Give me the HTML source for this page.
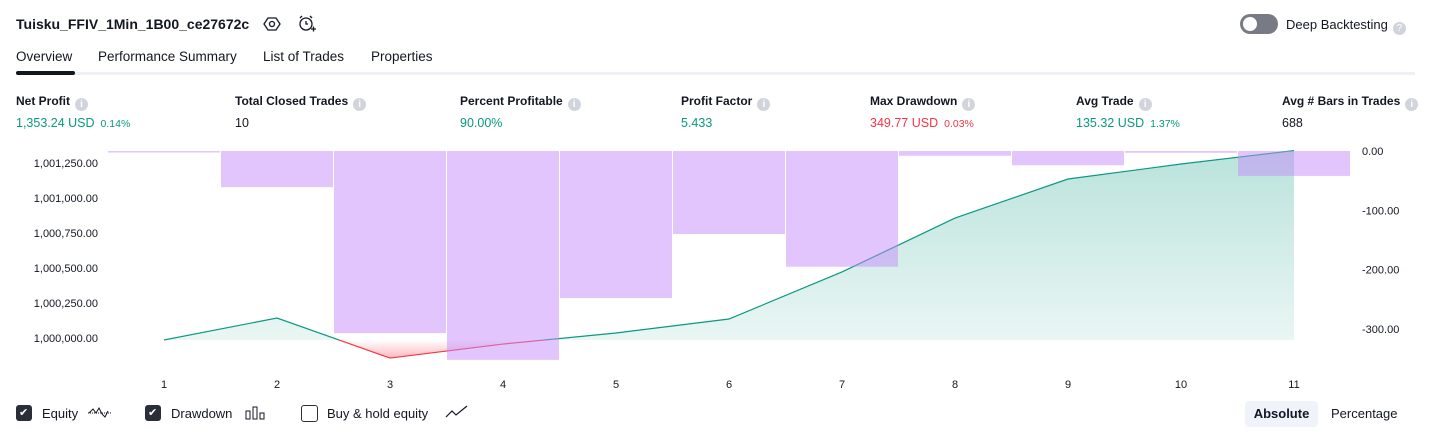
<!DOCTYPE html>
<html><head><meta charset="utf-8"><style>
body{margin:0;width:1431px;height:438px;background:#fff;font-family:"Liberation Sans",sans-serif;color:#131722;position:relative;overflow:hidden}
.a{position:absolute;white-space:nowrap}
.lbl{font-size:12px;font-weight:bold;color:#131722}
.val{font-size:12.5px}
.g{color:#089981}.r{color:#f23645}
.sm{font-size:10.5px;margin-left:6px}
.i{display:inline-block;width:13px;height:13px;border-radius:50%;background:#d1d4dc;color:#fff;font-size:10px;text-align:center;line-height:13px;margin-left:5px;vertical-align:-2px}
.tab{font-size:13.5px;top:49px}
.cb{width:16px;height:16px;border-radius:3px;top:405px}
.leg{font-size:13px;top:406px}
</style></head><body>
<div class="a" style="left:16px;top:16px;font-size:14px;font-weight:bold">Tuisku_FFIV_1Min_1B00_ce27672c</div>
<svg class="a" style="left:263px;top:15px" width="18" height="18"><polygon points="5,3 13,3 17,9 13,15 5,15 1,9" fill="none" stroke="#131722" stroke-width="1.3"/><circle cx="9" cy="9" r="2.5" fill="none" stroke="#131722" stroke-width="1.3"/></svg>
<svg class="a" style="left:297px;top:14px" width="20" height="20"><circle cx="9" cy="10" r="6" fill="none" stroke="#131722" stroke-width="1.3"/><path d="M9 7v3h2M3 4l2-2M15 4l-2-2M14 15h5M16.5 12.5v5" stroke="#131722" fill="none" stroke-width="1.3"/></svg>
<div class="a" style="left:1240px;top:14px;width:38px;height:20px;border-radius:10px;background:#787b86"><div style="position:absolute;left:3px;top:3px;width:14px;height:14px;border-radius:50%;background:#fff"></div></div>
<div class="a" style="left:1286px;top:17px;font-size:13px">Deep Backtesting<span class="i">?</span></div>
<div class="a tab" style="left:16px">Overview</div>
<div class="a tab" style="left:98px">Performance Summary</div>
<div class="a tab" style="left:263px">List of Trades</div>
<div class="a tab" style="left:371px">Properties</div>
<div class="a" style="left:16px;top:72px;width:1399px;height:3px;background:#eef0f5"></div>
<div class="a" style="left:16px;top:71px;width:59px;height:4px;border-radius:2px;background:#131722"></div>

<div class="a" style="left:16px;top:94px"><div class="lbl">Net Profit<span class="i">i</span></div><div class="val g" style="margin-top:5px">1,353.24 USD<span class="sm">0.14%</span></div></div>
<div class="a" style="left:235px;top:94px"><div class="lbl">Total Closed Trades<span class="i">i</span></div><div class="val" style="margin-top:5px">10</div></div>
<div class="a" style="left:460px;top:94px"><div class="lbl">Percent Profitable<span class="i">i</span></div><div class="val g" style="margin-top:5px">90.00%</div></div>
<div class="a" style="left:681px;top:94px"><div class="lbl">Profit Factor<span class="i">i</span></div><div class="val g" style="margin-top:5px">5.433</div></div>
<div class="a" style="left:870px;top:94px"><div class="lbl">Max Drawdown<span class="i">i</span></div><div class="val r" style="margin-top:5px">349.77 USD<span class="sm">0.03%</span></div></div>
<div class="a" style="left:1076px;top:94px"><div class="lbl">Avg Trade<span class="i">i</span></div><div class="val g" style="margin-top:5px">135.32 USD<span class="sm">1.37%</span></div></div>
<div class="a" style="left:1282px;top:94px"><div class="lbl">Avg # Bars in Trades<span class="i">i</span></div><div class="val" style="margin-top:5px">688</div></div>

<svg class="a" id="chart" style="left:0;top:0" width="1431" height="400"></svg>

<div class="a cb" style="left:16px;background:#2a2e39"><span style="color:#fff;font-size:11px;position:absolute;left:3px;top:1px">✔</span></div>
<div class="a leg" style="left:42px">Equity</div>
<svg class="a" style="left:88px;top:405px" width="24" height="14"><path d="M1 8l4-4 3 4 3-5 3 6 3 3 3-6" fill="none" stroke="#131722" stroke-width="1"/><path d="M0 8h24" stroke="#131722" stroke-dasharray="1 1"/></svg>
<div class="a cb" style="left:145px;background:#2a2e39"><span style="color:#fff;font-size:11px;position:absolute;left:3px;top:1px">✔</span></div>
<div class="a leg" style="left:171px">Drawdown</div>
<svg class="a" style="left:245px;top:406px" width="22" height="14"><rect x="1" y="5" width="4" height="8" fill="none" stroke="#131722"/><rect x="8" y="1" width="4" height="12" fill="none" stroke="#131722"/><rect x="15" y="7" width="4" height="6" fill="none" stroke="#131722"/></svg>
<div class="a cb" style="left:301px;border:1px solid #2a2e39;box-sizing:border-box;width:17px;height:17px"></div>
<div class="a leg" style="left:327px">Buy &amp; hold equity</div>
<svg class="a" style="left:445px;top:405px" width="24" height="14"><path d="M1 12l6-6 4 4 11-9" fill="none" stroke="#131722" stroke-width="1.2"/></svg>
<div class="a" style="left:1245px;top:401px;width:73px;height:26px;background:#f0f3fa;border-radius:4px;font-size:13px;font-weight:bold;text-align:center;line-height:26px">Absolute</div>
<div class="a" style="left:1331px;top:406px;font-size:13px">Percentage</div>

<script>
const trades=[1,2,3,4,5,6,7,8,9,10,11];
const equity=[0,157,-129,-29,50,150,486,871,1150,1257,1353];
const drawdown=[-1,-61,-307,-352,-248,-140,-195,-8,-24,-3,-42];
const leftTicks=[1001250,1001000,1000750,1000500,1000250,1000000];
const rightTicks=[0,-100,-200,-300];
const base=1000000;
const NS='http://www.w3.org/2000/svg';
const svg=document.getElementById('chart');
const xs=i=>164+(i-1)*113;
const yL=v=>340-(v-base)*0.14;
const yR=v=>151-v*(178/300);
function mk(t,a,p){const e=document.createElementNS(NS,t);for(const k in a)e.setAttribute(k,a[k]);(p||svg).appendChild(e);return e;}
const defs=mk('defs',{});
const minY=yL(Math.min(...equity)+base);
defs.innerHTML='<linearGradient id="gg" x1="0" y1="0" x2="0" y2="1"><stop offset="0" stop-color="#089981" stop-opacity="0.28"/><stop offset="1" stop-color="#089981" stop-opacity="0.07"/></linearGradient><linearGradient id="rg" gradientUnits="userSpaceOnUse" x1="0" y1="'+yL(base)+'" x2="0" y2="'+minY+'"><stop offset="0" stop-color="#f23645" stop-opacity="0"/><stop offset="1" stop-color="#f23645" stop-opacity="0.35"/></linearGradient><clipPath id="ca"><rect x="0" y="0" width="1431" height="'+yL(base)+'"/></clipPath><clipPath id="cb"><rect x="0" y="'+yL(base)+'" width="1431" height="200"/></clipPath>';
const abs=equity.map(v=>v+base);
let line='',area='';
abs.forEach((v,i)=>{line+=(i?'L':'M')+xs(trades[i])+' '+yL(v);});
area=line+'L'+xs(trades[trades.length-1])+' '+yL(base)+'L'+xs(trades[0])+' '+yL(base)+'Z';
let e=mk('path',{d:area,fill:'url(#gg)','clip-path':'url(#ca)'});

e=mk('path',{d:area,fill:'url(#rg)','clip-path':'url(#cb)'});

e=mk('path',{d:line,fill:'none',stroke:'#089981','stroke-width':1.2,'clip-path':'url(#ca)'});

e=mk('path',{d:line,fill:'none',stroke:'#f23645','stroke-width':1.2,'clip-path':'url(#cb)'});

drawdown.forEach((d,i)=>{const x=xs(trades[i])-56;const y0=yR(0),y1=yR(d);
const r=mk('rect',{x:x,y:y0,width:112,height:Math.max(1.5,y1-y0),fill:'rgba(195,140,250,0.5)'});
});
trades.forEach(t=>{const tx=mk('text',{x:xs(t),y:388,'font-size':11,'text-anchor':'middle',fill:'#131722'});tx.textContent=t;
});
leftTicks.forEach(v=>{const tx=mk('text',{x:98,y:yL(v)+2,'font-size':11,'text-anchor':'end',fill:'#131722'});tx.textContent=v.toLocaleString('en-US',{minimumFractionDigits:2});
});
rightTicks.forEach(v=>{const tx=mk('text',{x:1362,y:yR(v)+4,'font-size':11,fill:'#131722'});tx.textContent=v.toFixed(2);
});
</script>
</body></html>
